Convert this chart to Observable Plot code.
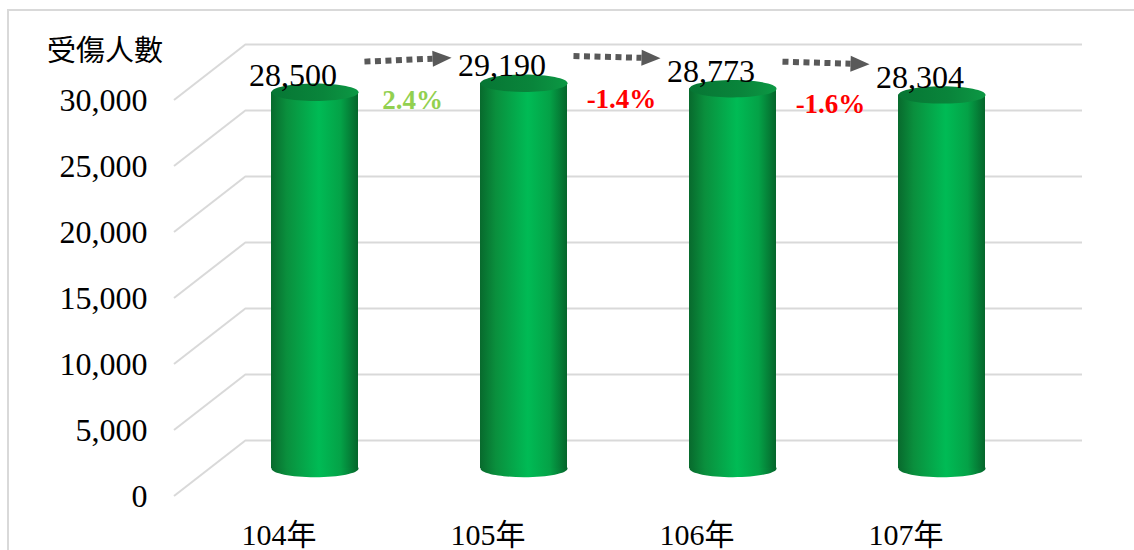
<!DOCTYPE html>
<html><head><meta charset="utf-8">
<script src="https://cdn.jsdelivr.net/npm/d3@7"></script>
<script src="https://cdn.jsdelivr.net/npm/@observablehq/plot@0.6"></script>
<style>
html,body{margin:0;padding:0;background:#fff;}
#wrap{position:relative;width:1134px;height:550px;overflow:hidden;background:#fff;}
#border{position:absolute;left:7px;top:9px;width:1160px;height:600px;border:2px solid #d9d9d9;box-sizing:border-box;}
#chart{position:absolute;left:0;top:0;}
</style></head><body>
<div id="wrap"><div id="border"></div><div id="chart"></div></div>
<script>
// ---- data ----
const years = ["104年", "105年", "106年", "107年"];
const injured = [28500, 29190, 28773, 28304];
const changes = [2.4, -1.4, -1.6];
const yTicks = [0, 5000, 10000, 15000, 20000, 25000, 30000];
const yTitle = "受傷人數";

// ---- derived tables ----
const bars = years.map((year, i) => ({year, value: injured[i]}));
const changeRows = changes.map((c, i) => ({
  year: years[i], mid: (injured[i] + injured[i + 1]) / 2, change: c,
  text: c.toFixed(1) + "%"
}));

// ---- 3D style constants ----
const DEPTH_X = 72, DEPTH_Y = 56;
const MID_X = DEPTH_X / 2, MID_Y = DEPTH_Y / 2;
const BAR_INSET = 61;
const GRID = "#d9d9d9";
const fmt = d => d.toLocaleString("en-US");

const ellipse = {
  draw(ctx, size) {
    const rx = Math.sqrt(size / Math.PI), ry = rx * 0.2, k = 0.5523;
    ctx.moveTo(-rx, 0);
    ctx.bezierCurveTo(-rx, -ry * k, -rx * k, -ry, 0, -ry);
    ctx.bezierCurveTo(rx * k, -ry, rx, -ry * k, rx, 0);
    ctx.bezierCurveTo(rx, ry * k, rx * k, ry, 0, ry);
    ctx.bezierCurveTo(-rx * k, ry, -rx, ry * k, -rx, 0);
    ctx.closePath();
  }
};

function defs() {
  const g = d3.create("svg:defs");
  const body = g.append("linearGradient").attr("id", "cylBody").attr("x1", 0).attr("x2", 1).attr("y1", 0).attr("y2", 0);
  [["0%", "#086a2d"], ["18%", "#0a8f3d"], ["55%", "#00bb55"], ["80%", "#04a247"], ["100%", "#05652b"]]
    .forEach(([o, c]) => body.append("stop").attr("offset", o).attr("stop-color", c));
  const top = g.append("linearGradient").attr("id", "cylTop").attr("x1", 0).attr("x2", 1).attr("y1", 0).attr("y2", 0);
  [["0%", "#077634"], ["60%", "#09853b"], ["100%", "#0c9844"]]
    .forEach(([o, c]) => top.append("stop").attr("offset", o).attr("stop-color", c));
  return g.node();
}

function floorLines(index, scales, values, dimensions) {
  const g = d3.create("svg:g").attr("stroke", GRID).attr("stroke-width", 2);
  const x0 = dimensions.marginLeft;
  for (const t of yTicks) {
    const y = scales.y(t);
    g.append("line").attr("x1", x0).attr("y1", y).attr("x2", x0 + DEPTH_X).attr("y2", y - DEPTH_Y);
  }
  return g.node();
}

function trendArrows(index, scales) {
  const g = d3.create("svg:g");
  const bw = scales.x.bandwidth ? scales.x.bandwidth() : 0;
  const px = yr => scales.x(yr) + bw / 2 + MID_X;
  const py = v => scales.y(v) - MID_Y - 28;
  for (let i = 0; i < years.length - 1; i++) {
    const ax = px(years[i]), ay = py(injured[i]), bx = px(years[i + 1]), by = py(injured[i + 1]);
    const L = Math.hypot(bx - ax, by - ay), ux = (bx - ax) / L, uy = (by - ay) / L;
    const sx = ax + ux * 50, sy = ay + uy * 50;
    const tx = bx - ux * 72, ty = by - uy * 72;
    const hx = tx - ux * 19, hy = ty - uy * 19;
    g.append("line").attr("x1", sx).attr("y1", sy).attr("x2", hx).attr("y2", hy)
      .attr("stroke", "#595959").attr("stroke-width", 6).attr("stroke-dasharray", "6 4.5");
    const nx = -uy, ny = ux;
    g.append("path").attr("d", `M${tx},${ty}L${hx + nx * 8},${hy + ny * 8}L${hx - nx * 8},${hy - ny * 8}Z`)
      .attr("fill", "#595959");
  }
  return g.node();
}

const hasAxisMarks = typeof Plot.axisX === "function";
const axes = hasAxisMarks ? [
  Plot.axisX({tickSize: 0, tickPadding: 27, fontSize: 30, label: null, fill: "#000"}),
  Plot.axisY({ticks: yTicks, tickSize: 0, tickPadding: 27, tickFormat: fmt, fontSize: 32, label: null, fill: "#000"})
] : [];

const chart = Plot.plot({
  width: 1134, height: 550,
  marginLeft: 174, marginRight: 124, marginTop: 100, marginBottom: 54,
  style: {fontFamily: "'Liberation Serif', 'Noto Sans CJK TC', serif", fontSize: "31px", background: "transparent", overflow: "visible", color: "#000"},
  x: {domain: years, padding: 0, tickSize: 0, tickPadding: 27, label: null},
  y: {domain: [0, 30000], ticks: yTicks, tickSize: 0, tickPadding: 27, tickFormat: fmt, label: null},
  marks: [
    defs,
    Plot.ruleY(yTicks, {y: d => d, dy: -DEPTH_Y, insetLeft: DEPTH_X, insetRight: -DEPTH_X, stroke: GRID, strokeWidth: 2}),
    floorLines,
    ...axes,
    Plot.dot(bars, {x: "year", y: () => 0, dx: MID_X, dy: -MID_Y, r: 43.5, symbol: ellipse, fill: "url(#cylBody)", stroke: null}),
    Plot.barY(bars, {x: "year", y: "value", dx: MID_X, dy: -MID_Y, insetLeft: BAR_INSET, insetRight: BAR_INSET, fill: "url(#cylBody)"}),
    Plot.dot(bars, {x: "year", y: "value", dx: MID_X, dy: -MID_Y, r: 43.5, symbol: ellipse, fill: "url(#cylTop)", stroke: null}),
    Plot.text(bars, {x: "year", y: "value", text: d => fmt(d.value), dx: MID_X - 22, dy: -MID_Y - 17, fill: "#000", fontSize: 32}),
    trendArrows,
    Plot.text(changeRows.filter(d => d.change > 0), {x: "year", y: "mid", text: "text", dx: MID_X + 104.5 - 7, dy: -MID_Y + 13, fill: "#92d050", fontWeight: "bold", fontSize: 27}),
    Plot.text(changeRows.filter(d => d.change <= 0), {x: "year", y: "mid", text: "text", dx: MID_X + 104.5 - 7, dy: -MID_Y + 13, fill: "#ff0000", fontWeight: "bold", fontSize: 27}),
    Plot.text([yTitle], {frameAnchor: "top-left", text: d => d, dx: -69.5, dy: -49, textAnchor: "middle", lineAnchor: "middle", fontSize: 29, fill: "#000", fontFamily: "'Noto Sans CJK TC', sans-serif", letterSpacing: 5})
  ]
});
document.getElementById("chart").appendChild(chart);
</script>
</body></html>
